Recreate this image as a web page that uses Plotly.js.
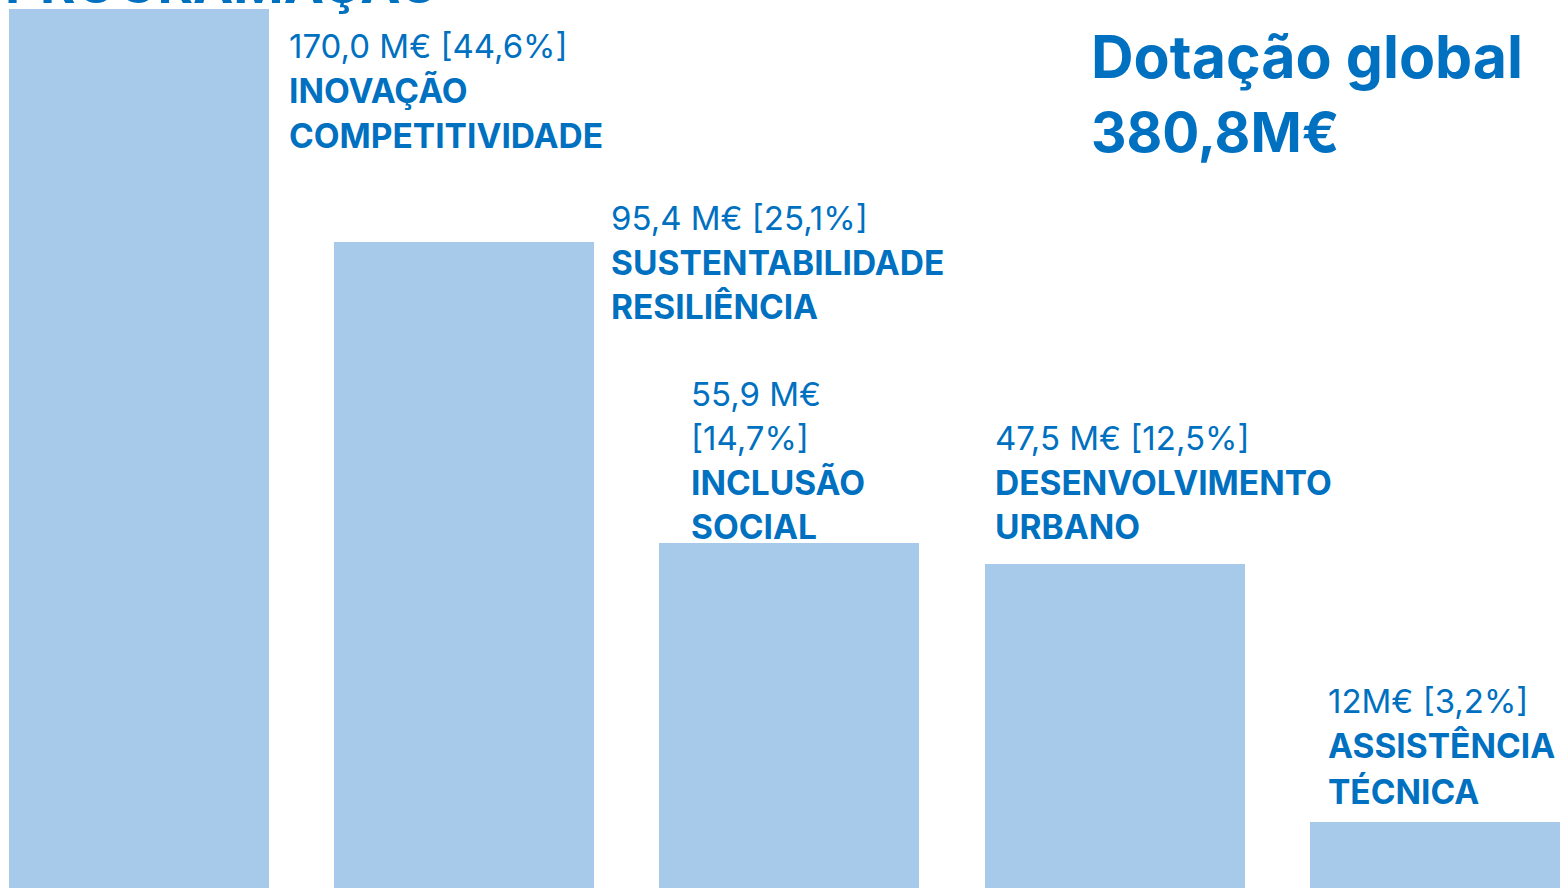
<!DOCTYPE html>
<html>
<head>
<meta charset="utf-8">
<script src="https://cdn.plot.ly/plotly-3.0.1.min.js"></script>
<style>
  html, body { margin: 0; padding: 0; background: #ffffff; }
  #chart { width: 1560px; height: 888px; }
</style>
</head>
<body>
<div id="chart"></div>
<script>
// ---- data ----
const categories = ['Inovação e Competitividade', 'Sustentabilidade e Resiliência', 'Inclusão Social', 'Desenvolvimento Urbano', 'Assistência Técnica'];
const valuesMEUR = [170.0, 95.4, 55.9, 47.5, 12];
const sharePct = ['44,6%', '25,1%', '14,7%', '12,5%', '3,2%'];
const valueText = ['170,0 M€ [44,6%]', '95,4 M€ [25,1%]', '55,9 M€|[14,7%]', '47,5 M€ [12,5%]', '12M€ [3,2%]'];
const nameLines = [['INOVAÇÃO', 'COMPETITIVIDADE'], ['SUSTENTABILIDADE', 'RESILIÊNCIA'], ['INCLUSÃO', 'SOCIAL'], ['DESENVOLVIMENTO', 'URBANO'], ['ASSISTÊNCIA', 'TÉCNICA']];
// drawn bar height, as % of the tallest bar
const barHeightPct = [100, 73.5, 39.2, 36.9, 7.5];
const totalTitle = ['Dotação global', '380,8M€'];
const topCutText = 'PROGRAMAÇÃO';

// ---- style / layout ----
const W = 1560, H = 888;
const blue = '#0070C0';
const barColor = '#A7CAEB';
const FONT = 'Inter, "Liberation Sans", Arial, sans-serif';
const labelX = [288, 610, 690, 994, 1327];
const labelLineY = [[46, 91, 136], [218, 263, 307], [394, 438, 483, 527], [438, 483, 527], [701, 746, 791]];
const SPACING = 325.4; // px per category
const X0 = 138.5;      // px centre of first category

const trace = {
  type: 'bar',
  x: categories,
  y: barHeightPct,
  width: 260 / SPACING,
  marker: { color: barColor, line: { width: 0 } },
  hoverinfo: 'skip',
  showlegend: false
};

const annotations = [];
function addText(txt, px, py, size, bold) {
  annotations.push({
    xref: 'paper', yref: 'paper',
    x: px / W, y: 1 - py / H,
    xanchor: 'left', yanchor: 'middle',
    text: bold ? '<b>' + txt + '</b>' : txt,
    showarrow: false,
    borderpad: 0,
    font: { family: FONT, size: size, color: blue }
  });
}
for (let i = 0; i < categories.length; i++) {
  const lines = [];
  valueText[i].split('|').forEach(t => lines.push({ t: t, b: false }));
  nameLines[i].forEach(t => lines.push({ t: t, b: true }));
  lines.forEach((ln, k) => addText(ln.t, labelX[i], labelLineY[i][k], ln.b ? 33.5 : 33, ln.b));
}
addText(totalTitle[0], 1090, 57, 59, true);
addText(totalTitle[1], 1090, 132, 55, true);
addText(topCutText, 4, -16, 54, true);

const r0 = -X0 / SPACING;
const layout = {
  width: W, height: H,
  margin: { l: 0, r: 0, t: 0, b: 0, pad: 0 },
  paper_bgcolor: '#ffffff',
  plot_bgcolor: '#ffffff',
  xaxis: { type: 'category', range: [r0, r0 + W / SPACING], showgrid: false, zeroline: false, showticklabels: false, ticks: '', showline: false, fixedrange: true },
  yaxis: { range: [0, 100 * H / 879], showgrid: false, zeroline: false, showticklabels: false, ticks: '', showline: false, fixedrange: true },
  annotations: annotations,
  bargap: 0
};

Plotly.newPlot('chart', [trace], layout, { displayModeBar: false, staticPlot: true });
</script>
</body>
</html>
